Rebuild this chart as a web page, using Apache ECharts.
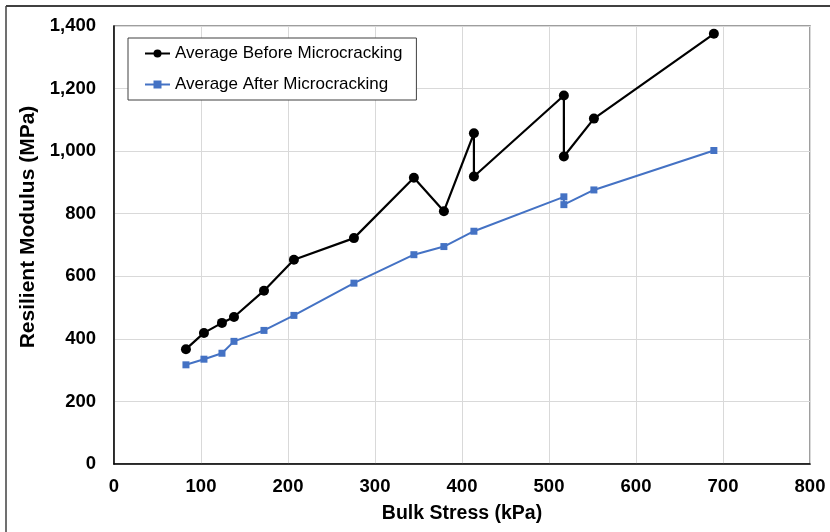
<!DOCTYPE html>
<html><head><meta charset="utf-8">
<script src="https://cdn.jsdelivr.net/npm/echarts@6/dist/echarts.min.js"></script>
<style>html,body{margin:0;padding:0;background:#fff}#c{width:830px;height:532px}</style>
</head><body><div id="c"></div>
<script>
const bulkStressBefore = [82.7,103.4,124.1,137.9,172.4,206.8,275.8,344.7,379.2,413.7,413.7,517.1,517.1,551.6,689.5];
const modulusBefore    = [367,419,451,470,554,653,722,915,808,1057,919,1178,983,1104,1375];
const bulkStressAfter  = [82.7,103.4,124.1,137.9,172.4,206.8,275.8,344.7,379.2,413.7,517.1,517.1,551.6,689.5];
const modulusAfter     = [317,335,354,392,427,475,578,669,695,744,854,829,876,1002];
const seriesNames = ['Average Before Microcracking','Average After Microcracking'];
const xTitle = 'Bulk Stress (kPa)';
const yTitle = 'Resilient Modulus (MPa)';

const pair = (xs, ys) => xs.map((x, i) => [x, ys[i]]);
const FONT = '"Liberation Sans",Arial,sans-serif';
const tickFont = {fontFamily:FONT, fontWeight:'bold', fontSize:18.5, color:'#000'};
const chart = echarts.init(document.getElementById('c'), null, {renderer:'canvas'});
chart.setOption({
  animation:false,
  backgroundColor:'#fff',
  grid:{left:114, right:20, top:26, bottom:68, show:true, borderColor:'#7f7f7f', borderWidth:1.5},
  legend:{
    left:128, top:38, orient:'vertical',
    padding:[7,14,7,16], itemGap:14, itemWidth:25, itemHeight:10,
    borderColor:'#404040', borderWidth:1, backgroundColor:'#fff',
    textStyle:{fontFamily:FONT, fontSize:17, color:'#000'},
    data:[{name:seriesNames[0]},{name:seriesNames[1]}]
  },
  xAxis:{
    type:'value', min:0, max:800, interval:100,
    name:xTitle, nameLocation:'middle', nameGap:40,
    nameTextStyle:Object.assign({}, tickFont, {fontSize:19.5}),
    axisLine:{show:true, onZero:false, lineStyle:{color:'#000', width:1.5}},
    axisTick:{show:false},
    axisLabel:Object.assign({margin:13}, tickFont),
    splitLine:{show:true, lineStyle:{color:'#d9d9d9', width:1}}
  },
  yAxis:{
    type:'value', min:0, max:1400, interval:200,
    axisLine:{show:true, onZero:false, lineStyle:{color:'#000', width:1.5}},
    axisTick:{show:false},
    axisLabel:Object.assign({margin:18, formatter:v => v.toLocaleString('en-US')}, tickFont),
    splitLine:{show:true, lineStyle:{color:'#d9d9d9', width:1}}
  },
  series:[
    {name:seriesNames[0], type:'line', data:pair(bulkStressBefore, modulusBefore),
     symbol:'circle', symbolSize:10, showAllSymbol:true,
     lineStyle:{color:'#000', width:2.2}, itemStyle:{color:'#000'}},
    {name:seriesNames[1], type:'line', data:pair(bulkStressAfter, modulusAfter),
     symbol:'rect', symbolSize:7, showAllSymbol:true,
     lineStyle:{color:'#4472c4', width:2}, itemStyle:{color:'#4472c4'}}
  ],
  graphic:[
    {type:'line', shape:{x1:6, y1:6, x2:830, y2:6}, style:{stroke:'#404040', lineWidth:2}, silent:true},
    {type:'line', shape:{x1:6, y1:6, x2:6, y2:532}, style:{stroke:'#404040', lineWidth:1.5}, silent:true},
    {type:'text', x:28, y:227, rotation:Math.PI/2, silent:true,
     style:{text:yTitle, fontFamily:FONT, fontWeight:'bold', fontSize:21, fill:'#000', align:'center', verticalAlign:'middle'}}
  ]
});
</script></body></html>
